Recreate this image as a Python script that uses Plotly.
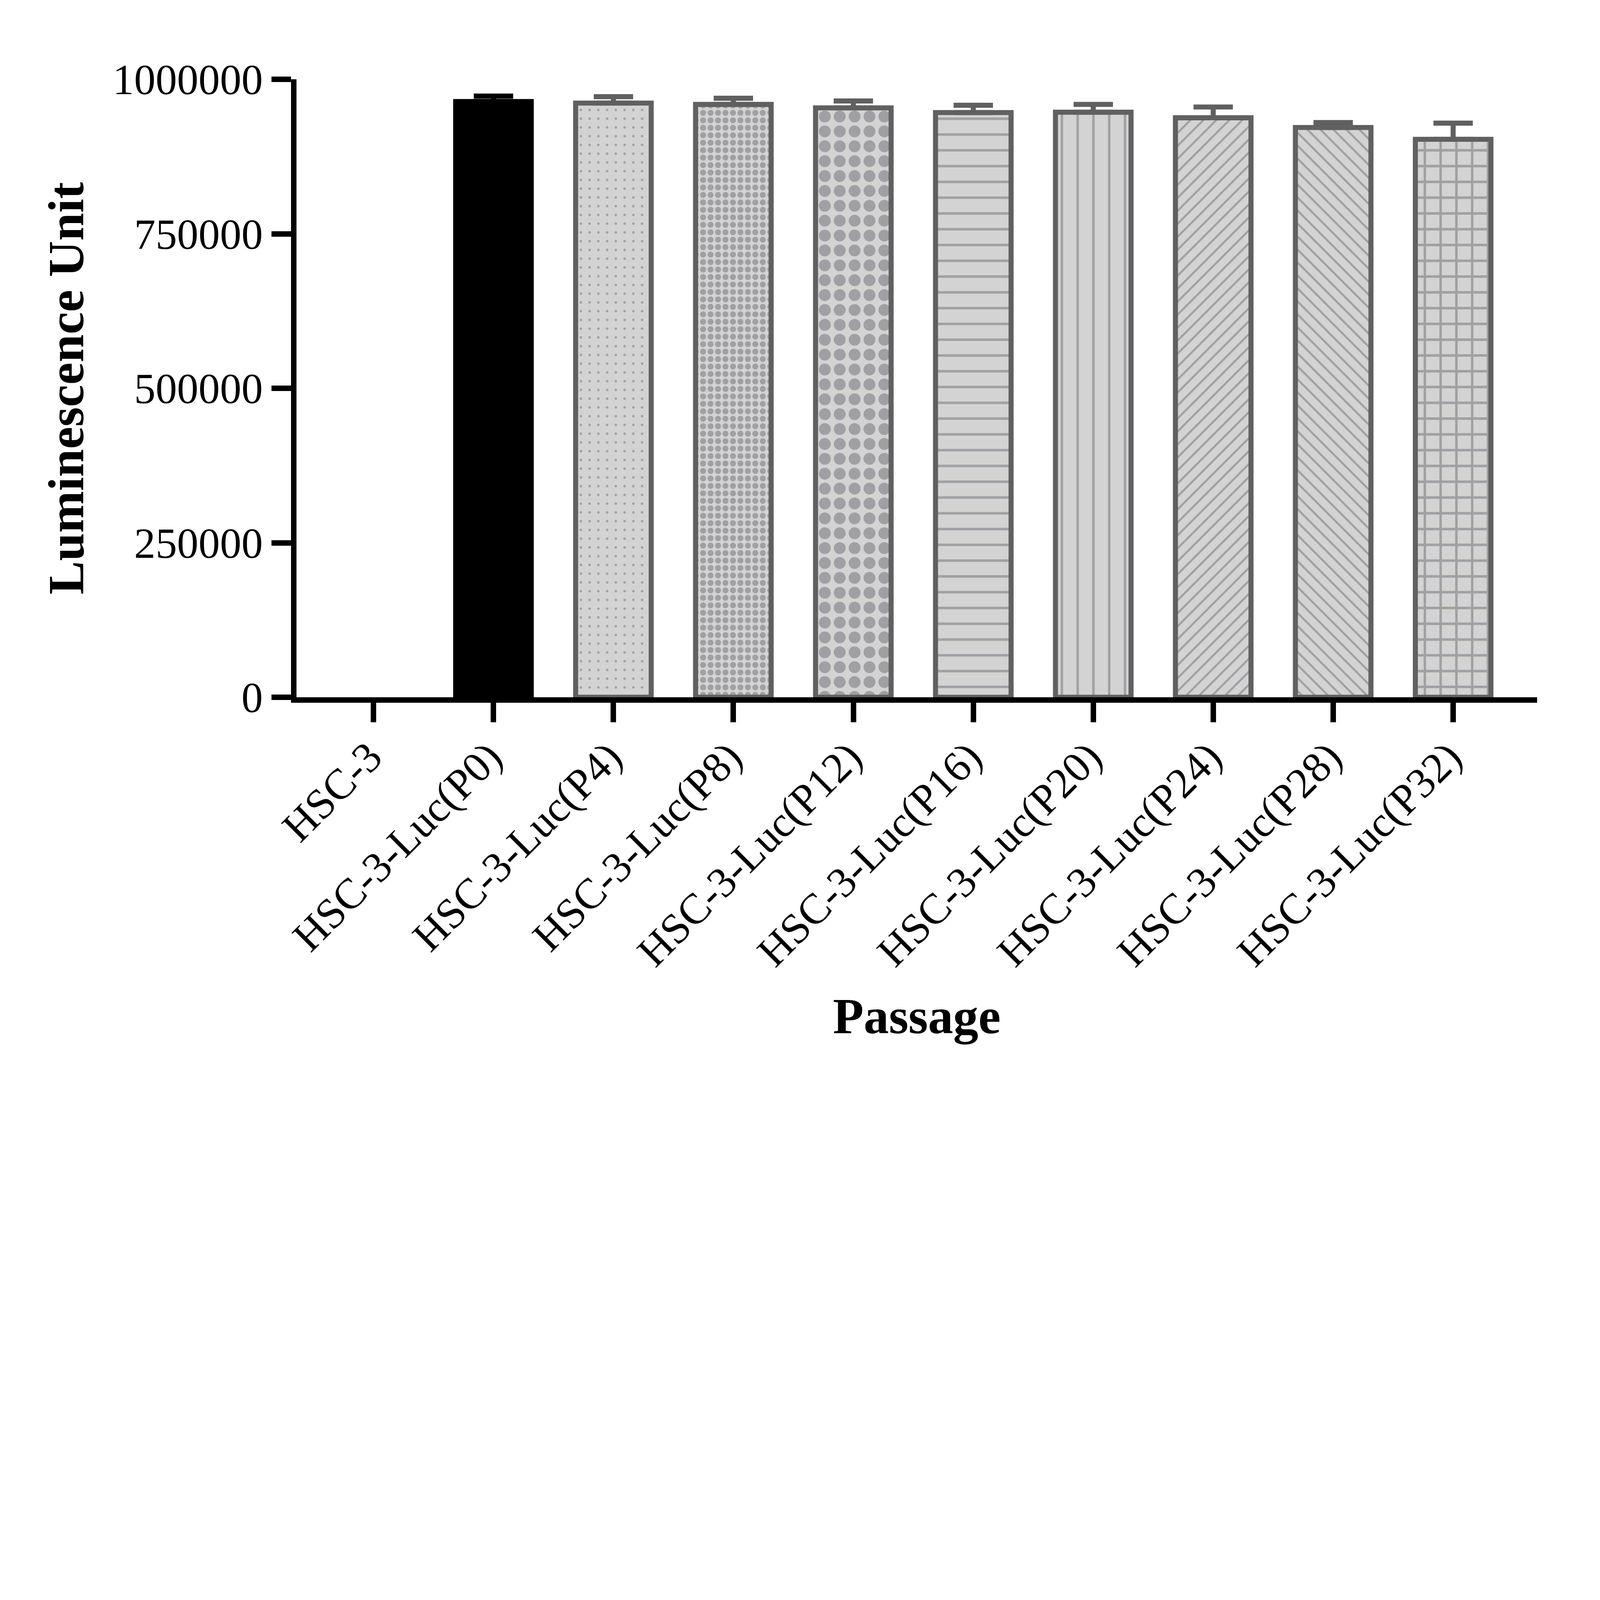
import plotly.graph_objects as go

# passage groups and their luminescence (mean, SD)
categories = [
    "HSC-3", "HSC-3-Luc(P0)", "HSC-3-Luc(P4)", "HSC-3-Luc(P8)", "HSC-3-Luc(P12)",
    "HSC-3-Luc(P16)", "HSC-3-Luc(P20)", "HSC-3-Luc(P24)", "HSC-3-Luc(P28)", "HSC-3-Luc(P32)",
]
means = [0, 964000, 961500, 959400, 953800, 946200, 946700, 937700, 922000, 902900]
sds = [0, 8800, 10400, 9900, 11100, 11800, 12700, 17500, 8100, 26100]
y_ticks = [0, 250000, 500000, 750000, 1000000]

# the browser viewport is 4096 px wide, so everything is laid out at the
# reference's 7308 px scale and shrunk by S
S = 4096 / 7308


def px(v):
    return round(v * S, 1)


# fill style of each bar
shapes = ["", "", ".", ".", ".", "-", "|", "/", "\\", "+"]
shape_sizes = [10, 10, 40, 34, 68, 72, 72, 42, 42, 72]
solidities = [0.2, 0.2, 0.06, 0.5, 0.5, 0.153, 0.153, 0.22, 0.22, 0.283]

FONT = "Liberation Serif, Times New Roman, serif"
FILL = "#d3d3d3"
EDGE = "#606060"
HATCH = "#a0a0a4"

fig = go.Figure()
for i, cat in enumerate(categories):
    dark = i < 2
    fig.add_trace(go.Bar(
        x=[cat],
        y=[means[i]],
        width=0.63,
        marker=dict(
            color="black" if dark else FILL,
            # an empty bar gets no outline, so nothing shows above the axis
            line=dict(color="black" if dark else EDGE, width=px(23) if means[i] > 0 else 0),
            pattern=dict(
                shape=shapes[i],
                size=px(shape_sizes[i]),
                solidity=solidities[i],
                fgcolor=HATCH,
                fgopacity=1,
                fillmode="overlay",
            ),
        ),
        error_y=dict(
            type="data",
            array=[sds[i]],
            arrayminus=[0],
            symmetric=False,
            visible=sds[i] > 0,
            color="black" if dark else EDGE,
            thickness=px(23),
            width=px(90),
        ),
        showlegend=False,
    ))

axis_style = dict(
    showline=True,
    linecolor="black",
    linewidth=px(24),
    ticks="outside",
    ticklen=px(90),
    tickwidth=px(24),
    tickcolor="black",
    showgrid=False,
    zeroline=False,
    tickfont=dict(family=FONT, size=px(196), color="black"),
)

fig.update_layout(
    width=4096,
    height=round(4952 * S),
    margin=dict(l=px(1340), r=px(301), t=px(347), b=px(1782)),
    plot_bgcolor="white",
    paper_bgcolor="white",
    barmode="overlay",
    font=dict(family=FONT, size=px(196), color="black"),
    xaxis=dict(
        type="category",
        categoryorder="array",
        categoryarray=categories,
        range=[-0.642, 9.70],
        tickangle=-45,
        ticklabelstandoff=round(-35 * S),
        ticklabelshift=round(-20 * S),
        title=dict(text="<b>Passage</b>", font=dict(family=FONT, size=px(230)), standoff=px(115)),
        **axis_style,
    ),
    yaxis=dict(
        range=[0, 1000000],
        tickvals=y_ticks,
        tickformat="d",
        title=dict(text="<b>Luminescence Unit</b>", font=dict(family=FONT, size=px(230)), standoff=px(66)),
        **axis_style,
    ),
)

fig.write_html("out.html")
